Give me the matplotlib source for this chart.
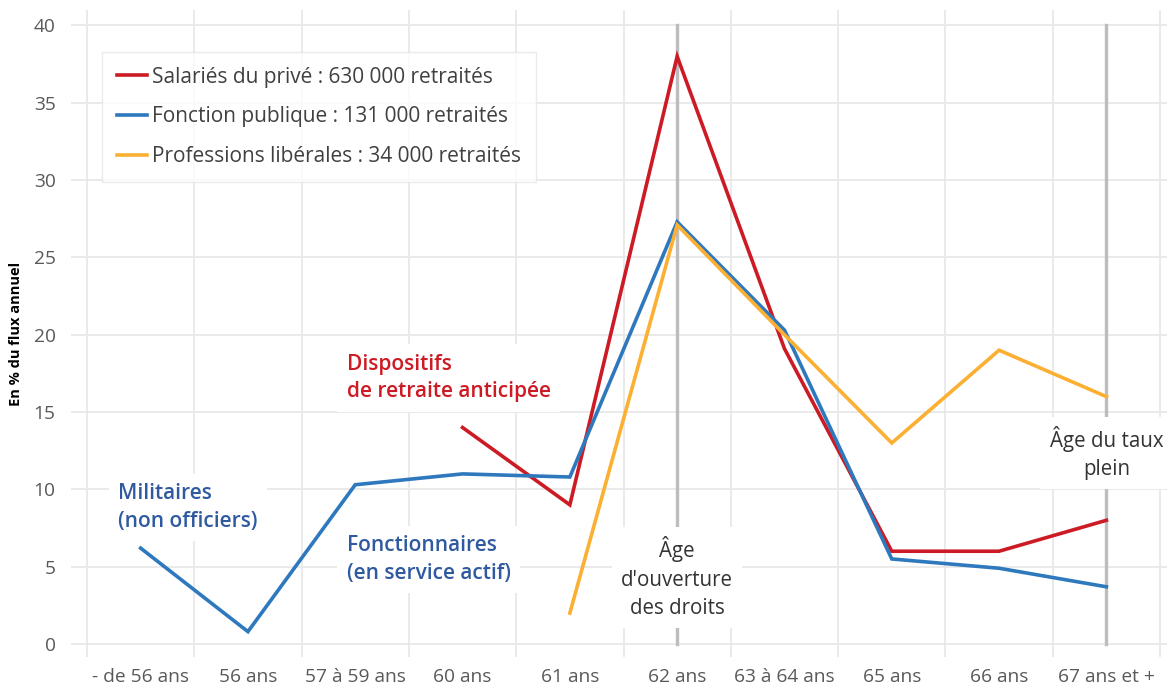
import numpy as np
from matplotlib import pyplot as plt

# categories (x axis)
categories = ["- de 56 ans", "56 ans", "57 à 59 ans", "60 ans", "61 ans",
              "62 ans", "63 à 64 ans", "65 ans", "66 ans", "67 ans et +"]

# values in % of the yearly flow (nan = no point)
prive = [np.nan, np.nan, np.nan, 14.0, 9.0, 38.0, 19.1, 6.0, 6.0, 8.0]
publique = [6.2, 0.8, 10.3, 11.0, 10.8, 27.3, 20.3, 5.5, 4.9, 3.7]
liberales = [np.nan, np.nan, np.nan, np.nan, 2.0, 27.1, 20.0, 13.0, 19.0, 16.0]

labels = ["Salariés du privé : 630 000 retraités",
          "Fonction publique : 131 000 retraités",
          "Professions libérales : 34 000 retraités"]
colors = ["#cc1b24", "#2e78be", "#fbb034"]

plt.rcParams['font.family'] = ['Open Sans', 'DejaVu Sans']

W, H = 1167, 689
fig = plt.figure(figsize=(W / 100, H / 100), dpi=100)
ax = fig.add_axes([71 / W, 1 - 657 / H, (W - 71) / W, (657 - 10) / H])

x = np.arange(len(categories))
for serie, lab, col in zip([prive, publique, liberales], labels, colors):
    ax.plot(x, serie, color=col, linewidth=2.6, label=lab, zorder=3,
            solid_joinstyle="miter")

# reference ages
for pos in [5, 9]:
    ax.plot([pos, pos], [0, 40], color="#bdbdbd", linewidth=2.4, zorder=2)

ax.set_xlim(-0.649, 9.565)
ax.set_ylim(-0.84, 41.0)
ax.set_xticks(x)
ax.set_xticklabels(categories)
ax.set_xticks(np.arange(-0.5, 10, 1), minor=True)
ax.set_yticks(np.arange(0, 41, 5))
ax.tick_params(axis="both", which="both", length=0, labelsize=13.8,
               labelcolor="#595959")
ax.tick_params(axis="x", pad=8)
ax.tick_params(axis="y", pad=11)
ax.grid(True, axis="y", which="major", color="#e8e8e8", linewidth=1.3, zorder=0)
ax.grid(True, axis="x", which="minor", color="#e8e8e8", linewidth=1.3, zorder=0)
ax.set_axisbelow(True)
for s in ax.spines.values():
    s.set_visible(False)

ax.set_ylabel("En % du flux annuel", fontsize=10.5, fontweight="bold", labelpad=8)

box = dict(boxstyle="square,pad=0.45", facecolor="white", edgecolor="none")
ax.text(5, 4.3, "Âge\nd'ouverture\ndes droits", ha="center", va="center",
        fontsize=14.8, color="#333333", linespacing=1.45, bbox=box, zorder=2.5)
ax.text(9, 12.35, "Âge du taux\nplein", ha="center", va="center",
        fontsize=14.8, color="#333333", linespacing=1.45, bbox=box, zorder=2.5)
ax.text(1.92, 17.2, "Dispositifs\nde retraite anticipée", ha="left", va="center",
        fontsize=15, fontweight="semibold", color="#cc1b24", linespacing=1.4,
        bbox=box, zorder=2.5)
ax.text(-0.21, 8.82, "Militaires\n(non officiers)", ha="left", va="center",
        fontsize=15, fontweight="semibold", color="#2f5aa0", linespacing=1.4,
        bbox=box, zorder=2.5)
ax.text(1.92, 5.46, "Fonctionnaires\n(en service actif)", ha="left", va="center",
        fontsize=15, fontweight="semibold", color="#2f5aa0", linespacing=1.4,
        bbox=box, zorder=2.5)

leg = ax.legend(loc="upper left", bbox_to_anchor=(102 / W, 1 - 52 / H),
                bbox_transform=fig.transFigure, fontsize=15, frameon=True,
                fancybox=False, edgecolor="#e6e6e6", handlelength=1.45,
                handletextpad=0.25, labelspacing=0.9, borderpad=0.7,
                borderaxespad=0, labelcolor="#404040")
leg.get_frame().set_linewidth(1.0)
leg.set_zorder(4)

fig.savefig("out.png", dpi=100)
